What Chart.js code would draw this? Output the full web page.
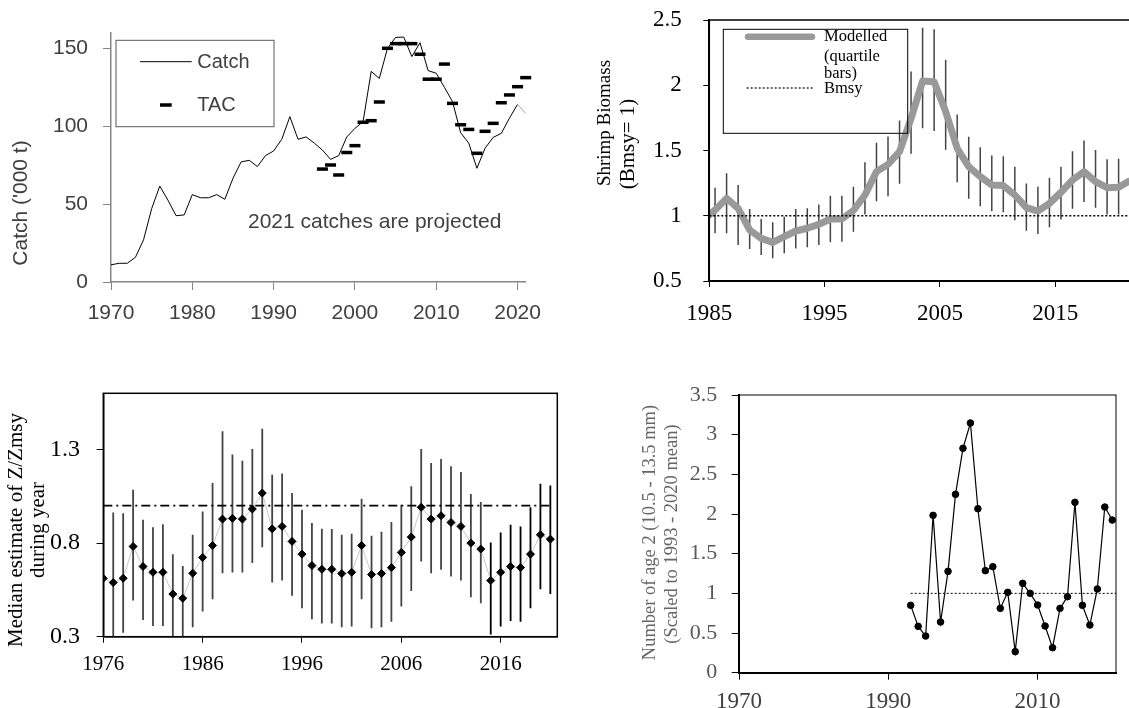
<!DOCTYPE html>
<html>
<head>
<meta charset="utf-8">
<script src="https://cdn.jsdelivr.net/npm/chart.js@4.4.1/dist/chart.umd.min.js"></script>
<style>
  html, body { margin: 0; padding: 0; background: #fff; overflow: hidden; width: 1129px; height: 708px; }
  canvas { position: absolute; }
</style>
</head>
<body>
<canvas id="graficoCaptura" width="560" height="340" style="left:0px;top:0px"></canvas>
<canvas id="graficoBiomassa" width="580" height="360" style="left:580px;top:-20px"></canvas>
<canvas id="graficoZ" width="590" height="358" style="left:0px;top:350px"></canvas>
<canvas id="graficoIdade2" width="529" height="358" style="left:600px;top:350px"></canvas>
<script>
// ---- dados: captura e TAC ('000 t)
const anosCaptura = [1970, 1971, 1972, 1973, 1974, 1975, 1976, 1977, 1978, 1979,
  1980, 1981, 1982, 1983, 1984, 1985, 1986, 1987, 1988, 1989,
  1990, 1991, 1992, 1993, 1994, 1995, 1996, 1997, 1998, 1999,
  2000, 2001, 2002, 2003, 2004, 2005, 2006, 2007, 2008, 2009,
  2010, 2011, 2012, 2013, 2014, 2015, 2016, 2017, 2018, 2019, 2020, 2021];
const captura = [11, 12, 12, 15.8, 27, 47, 61.5, 52.5, 42.5, 43,
  56, 54, 54, 56, 53, 66.5, 77, 78, 74, 81,
  84, 91.5, 106, 91.5, 93, 89, 84.6, 78.6, 81, 93,
  98.5, 102.8, 135, 130.5, 149.8, 156.8, 157, 144.5, 153.4, 135.5,
  133.8, 124.8, 115.6, 95.7, 89, 72.9, 85.7, 92.7, 95.3, 105, 113.9, 108];
const anosTAC = [1996, 1997, 1998, 1999, 2000, 2001, 2002, 2003, 2004, 2005,
  2006, 2007, 2008, 2009, 2010, 2011, 2012, 2013, 2014, 2015,
  2016, 2017, 2018, 2019, 2020, 2021];
const tac = [72.4, 75, 68.6, 83, 87.4, 102.4, 103.4, 115.4, 149.8, 152.8,
  152.8, 152.8, 146, 130, 130, 139.7, 114.5, 100.8, 97.8, 82.5,
  96.6, 101.7, 114.9, 119.9, 125.2, 131];
const ticksXCaptura = [1970, 1980, 1990, 2000, 2010, 2020];
const ticksYCaptura = [0, 50, 100, 150];

// ---- dados: biomassa (meio do ano) com barras de quartis
const anosBiomassa = [1984.5, 1985.5, 1986.5, 1987.5, 1988.5, 1989.5, 1990.5, 1991.5, 1992.5, 1993.5,
  1994.5, 1995.5, 1996.5, 1997.5, 1998.5, 1999.5, 2000.5, 2001.5, 2002.5, 2003.5,
  2004.5, 2005.5, 2006.5, 2007.5, 2008.5, 2009.5, 2010.5, 2011.5, 2012.5, 2013.5,
  2014.5, 2015.5, 2016.5, 2017.5, 2018.5, 2019.5, 2020.5, 2021.5];
const biomassa = [0.97, 1.044, 1.133, 1.057, 0.891, 0.827, 0.796, 0.84, 0.883, 0.904,
  0.934, 0.975, 0.975, 1.04, 1.159, 1.338, 1.394, 1.491, 1.746, 2.033,
  2.027, 1.798, 1.517, 1.376, 1.3, 1.236, 1.231, 1.159, 1.062, 1.036,
  1.095, 1.179, 1.274, 1.338, 1.261, 1.215, 1.218, 1.27];
const biomassaAlto = [null, 1.215, 1.325, 1.236, 1.052, 0.975, 0.95, 0.993, 1.052, 1.057,
  1.087, 1.154, 1.154, 1.223, 1.41, 1.56, 1.607, 1.73, 2.105, 2.44,
  2.43, 2.195, 1.775, 1.605, 1.525, 1.461, 1.456, 1.375, 1.247, 1.222,
  1.291, 1.375, 1.495, 1.577, 1.503, 1.432, 1.437, null];
const biomassaBaixo = [null, 0.865, 0.865, 0.776, 0.745, 0.699, 0.674, 0.712, 0.75, 0.758,
  0.776, 0.796, 0.801, 0.878, 1.01, 1.112, 1.15, 1.245, 1.475, 1.67,
  1.65, 1.505, 1.257, 1.13, 1.073, 1.035, 1.027, 0.966, 0.886, 0.86,
  0.911, 0.971, 1.054, 1.105, 1.062, 1.01, 1.01, null];
const ticksXBiomassa = [1985, 1995, 2005, 2015];
const ticksYBiomassa = [0.5, 1, 1.5, 2, 2.5];

// ---- dados: Z/Zmsy
const anosZ = [1976, 1977, 1978, 1979, 1980, 1981, 1982, 1983, 1984, 1985,
  1986, 1987, 1988, 1989, 1990, 1991, 1992, 1993, 1994, 1995,
  1996, 1997, 1998, 1999, 2000, 2001, 2002, 2003, 2004, 2005,
  2006, 2007, 2008, 2009, 2010, 2011, 2012, 2013, 2014, 2015,
  2016, 2017, 2018, 2019, 2020, 2021];
const medianaZ = [0.612, 0.589, 0.612, 0.782, 0.675, 0.644, 0.644, 0.528, 0.505, 0.639,
  0.723, 0.787, 0.928, 0.932, 0.928, 0.982, 1.067, 0.876, 0.889, 0.809,
  0.741, 0.68, 0.66, 0.66, 0.637, 0.644, 0.787, 0.632, 0.637, 0.669,
  0.75, 0.832, 0.991, 0.928, 0.946, 0.91, 0.889, 0.8, 0.768, 0.6,
  0.644, 0.675, 0.669, 0.741, 0.844, 0.821];
const zAlto = [null, 0.964, 0.96, 1.085, 0.925, 0.885, 0.901, 0.741, 0.678, 0.844,
  0.969, 1.121, 1.397, 1.273, 1.24, 1.303, 1.41, 1.165, 1.171, 1.067,
  0.978, 0.907, 0.876, 0.875, 0.844, 0.85, 1.037, 0.839, 0.86, 0.912,
  1.005, 1.103, 1.303, 1.228, 1.249, 1.21, 1.18, 1.062, 1.019, 0.803,
  0.857, 0.898, 0.889, 0.991, 1.117, 1.107];
const zBaixo = [null, 0.28, 0.321, 0.493, 0.389, 0.357, 0.357, 0.28, 0.28, 0.35,
  0.434, 0.5, 0.639, 0.643, 0.643, 0.693, 0.778, 0.589, 0.6, 0.519,
  0.452, 0.393, 0.371, 0.371, 0.35, 0.354, 0.5, 0.345, 0.35, 0.38,
  0.461, 0.544, 0.701, 0.639, 0.657, 0.621, 0.6, 0.511, 0.478, 0.312,
  0.354, 0.384, 0.38, 0.452, 0.553, 0.528];
const ticksXZ = [1976, 1986, 1996, 2006, 2016];
const ticksYZ = [0.3, 0.8, 1.3];

// ---- dados: idade 2 (escalado para a média 1993-2020)
const anosIdade2 = [1993, 1994, 1995, 1996, 1997, 1998, 1999, 2000, 2001, 2002,
  2003, 2004, 2005, 2006, 2007, 2008, 2009, 2010, 2011, 2012,
  2013, 2014, 2015, 2016, 2017, 2018, 2019, 2020];
const idade2 = [0.849, 0.584, 0.462, 1.983, 0.639, 1.277, 2.248, 2.828, 3.147, 2.067,
  1.286, 1.336, 0.811, 1.013, 0.265, 1.126, 1.0, 0.853, 0.588, 0.315,
  0.811, 0.958, 2.147, 0.849, 0.601, 1.055, 2.088, 1.924];
const ticksXIdade2 = [1970, 1990, 2010];
const ticksYIdade2 = [0, 0.5, 1, 1.5, 2, 2.5, 3, 3.5];

const SANS = "'Liberation Sans', Arial, sans-serif";
const SERIF = "'Liberation Serif', 'Times New Roman', serif";

function pontos(xs, ys) {
  return xs.map((x, i) => ({ x: x, y: ys[i] }));
}

function fixaTicks(valores) {
  return (escala) => {
    escala.ticks = valores.map((v) => ({ value: v }));
  };
}

// textos, caixas e amostras de legenda (coordenadas da página)
function notas(origemX, origemY, itens) {
  return {
    id: "notas",
    afterDraw(chart) {
      const ctx = chart.ctx;
      itens.forEach((n) => {
        ctx.save();
        ctx.translate(-origemX, -origemY);
        if (n.tipo === "caixa") {
          ctx.strokeStyle = n.cor;
          ctx.lineWidth = n.lw;
          ctx.strokeRect(n.x, n.y, n.w, n.h);
        } else if (n.tipo === "linha") {
          ctx.strokeStyle = n.cor;
          ctx.lineWidth = n.lw;
          ctx.lineCap = n.cap || "butt";
          ctx.setLineDash(n.dash || []);
          ctx.beginPath();
          ctx.moveTo(n.x1, n.y);
          ctx.lineTo(n.x2, n.y);
          ctx.stroke();
        } else {
          ctx.font = n.fonte;
          ctx.fillStyle = n.cor || "#000";
          ctx.textAlign = n.alinha || "left";
          ctx.textBaseline = "middle";
          ctx.translate(n.x, n.y);
          if (n.rot) ctx.rotate(n.rot);
          ctx.fillText(n.texto, 0, 0);
        }
        ctx.restore();
      });
    },
  };
}

// moldura em volta da área do gráfico
function moldura(cor, largura) {
  return {
    id: "moldura",
    afterDatasetsDraw(chart) {
      const { ctx, chartArea: a } = chart;
      ctx.save();
      ctx.strokeStyle = cor;
      ctx.lineWidth = largura;
      ctx.strokeRect(a.left, a.top, a.right - a.left, a.bottom - a.top);
      ctx.restore();
    },
  };
}

// barras verticais de incerteza
function barras(xs, baixo, alto, corDe, largura) {
  return {
    id: "barras",
    beforeDatasetsDraw(chart) {
      const { ctx, chartArea: a, scales } = chart;
      ctx.save();
      ctx.beginPath();
      ctx.rect(a.left, a.top, a.right - a.left, a.bottom - a.top);
      ctx.clip();
      ctx.lineWidth = largura;
      xs.forEach((x, i) => {
        if (baixo[i] == null) return;
        const px = scales.x.getPixelForValue(x);
        ctx.strokeStyle = corDe(x);
        ctx.beginPath();
        ctx.moveTo(px, scales.y.getPixelForValue(baixo[i]));
        ctx.lineTo(px, scales.y.getPixelForValue(alto[i]));
        ctx.stroke();
      });
      ctx.restore();
    },
  };
}

function eixo(cfg) {
  return {
    type: "linear",
    position: cfg.pos,
    min: cfg.min,
    max: cfg.max,
    afterBuildTicks: fixaTicks(cfg.ticks),
    afterFit: (e) => {
      if (cfg.pos === "left") e.width = cfg.tamanho;
      else e.height = cfg.tamanho;
    },
    grid: { drawOnChartArea: false, drawTicks: true, tickLength: cfg.tl, color: cfg.corLinha, lineWidth: 1 },
    border: { color: cfg.corLinha, width: cfg.bw },
    ticks: {
      autoSkip: false,
      maxRotation: 0,
      padding: cfg.pad,
      color: cfg.corTexto,
      font: { family: cfg.familia, size: cfg.fs },
      callback: (v) => String(v),
    },
  };
}

const basico = {
  responsive: false,
  animation: false,
  events: [],
  plugins: { legend: { display: false }, tooltip: { enabled: false } },
};

// ---------- painel 1: captura
new Chart(document.getElementById("graficoCaptura"), {
  type: "line",
  data: {
    datasets: [
      {
        label: "TAC",
        data: pontos(anosTAC, tac),
        showLine: false,
        pointStyle: "line",
        pointRadius: 5.5,
        pointBorderWidth: 3.5,
        pointBorderColor: "#000",
        clip: false,
      },
      {
        label: "Catch",
        data: pontos(anosCaptura, captura),
        borderColor: "#000",
        borderWidth: 1,
        pointRadius: 0,
        segment: { borderColor: (c) => (c.p1.parsed.x > 2020 ? "#a6a6a6" : undefined) },
      },
    ],
  },
  options: {
    ...basico,
    layout: { padding: { top: 32.4, right: 34.3, bottom: 0, left: 0 } },
    scales: {
      x: eixo({ pos: "bottom", min: 1970, max: 2021, ticks: ticksXCaptura, tamanho: 58, tl: 8, corLinha: "#868686", bw: 1.5, pad: 11, corTexto: "#404040", familia: SANS, fs: 21 }),
      y: eixo({ pos: "left", min: 0, max: 160, ticks: ticksYCaptura, tamanho: 111, tl: 8, corLinha: "#868686", bw: 1.5, pad: 15, corTexto: "#404040", familia: SANS, fs: 21 }),
    },
  },
  plugins: [
    notas(0, 0, [
      { tipo: "caixa", x: 116, y: 40.3, w: 158, h: 86.4, cor: "#595959", lw: 1 },
      { tipo: "linha", x1: 140, x2: 191.7, y: 61.7, cor: "#000", lw: 1 },
      { tipo: "linha", x1: 160, x2: 171.7, y: 105, cor: "#000", lw: 3.5 },
      { tipo: "texto", texto: "Catch", x: 197.3, y: 62, fonte: "20px " + SANS, cor: "#404040" },
      { tipo: "texto", texto: "TAC", x: 197.3, y: 105, fonte: "20px " + SANS, cor: "#404040" },
      { tipo: "texto", texto: "2021 catches are projected", x: 248, y: 222.7, fonte: "21px " + SANS, cor: "#404040" },
      { tipo: "texto", texto: "Catch ('000 t)", x: 21.7, y: 203, rot: -Math.PI / 2, alinha: "center", fonte: "21px " + SANS, cor: "#404040" },
    ]),
  ],
});

// ---------- painel 2: biomassa
new Chart(document.getElementById("graficoBiomassa"), {
  type: "line",
  data: {
    datasets: [
      {
        label: "Bmsy",
        data: pontos([1985, 2022], [1, 1]),
        borderColor: "#000",
        borderWidth: 1.5,
        borderDash: [2, 2],
        pointRadius: 0,
      },
      {
        label: "Modelled",
        data: pontos(anosBiomassa, biomassa),
        borderColor: "#999999",
        borderWidth: 7,
        borderJoinStyle: "round",
        pointRadius: 0,
        clip: 0,
      },
    ],
  },
  options: {
    ...basico,
    layout: { padding: { top: 40, right: 24.1, bottom: 0, left: 0 } },
    scales: {
      x: eixo({ pos: "bottom", min: 1985, max: 2022, ticks: ticksXBiomassa, tamanho: 59, tl: 6, corLinha: "#000", bw: 2, pad: 13, corTexto: "#000", familia: SERIF, fs: 23 }),
      y: eixo({ pos: "left", min: 0.5, max: 2.5, ticks: ticksYBiomassa, tamanho: 129.3, tl: 6, corLinha: "#000", bw: 2, pad: 21.6, corTexto: "#000", familia: SERIF, fs: 23 }),
    },
  },
  plugins: [
    barras(anosBiomassa, biomassaBaixo, biomassaAlto, () => "#444444", 1.5),
    moldura("#000", 1.5),
    notas(580, -20, [
      { tipo: "caixa", x: 723.3, y: 29.3, w: 184.4, h: 104, cor: "#000", lw: 1 },
      { tipo: "linha", x1: 748, x2: 812, y: 36.7, cor: "#999999", lw: 6.5, cap: "round" },
      { tipo: "linha", x1: 746.7, x2: 813, y: 88, cor: "#000", lw: 1.2, dash: [2, 2] },
      { tipo: "texto", texto: "Modelled", x: 824, y: 37, fonte: "16.5px " + SERIF },
      { tipo: "texto", texto: "(quartile", x: 824, y: 57, fonte: "16.5px " + SERIF },
      { tipo: "texto", texto: "bars)", x: 824, y: 74, fonte: "16.5px " + SERIF },
      { tipo: "texto", texto: "Bmsy", x: 824, y: 89, fonte: "16.5px " + SERIF },
      { tipo: "texto", texto: "Shrimp Biomass", x: 605, y: 123, rot: -Math.PI / 2, alinha: "center", fonte: "19px " + SERIF },
      { tipo: "texto", texto: "(Bmsy= 1)", x: 628, y: 144, rot: -Math.PI / 2, alinha: "center", fonte: "21px " + SERIF },
    ]),
  ],
});

// ---------- painel 3: Z/Zmsy
new Chart(document.getElementById("graficoZ"), {
  type: "line",
  data: {
    datasets: [
      {
        label: "Median",
        data: pontos(anosZ, medianaZ),
        borderColor: "#c8c8c8",
        borderWidth: 1,
        pointStyle: "rectRot",
        pointRadius: 4,
        pointBorderWidth: 1,
        pointBackgroundColor: "#000",
        pointBorderColor: "#000",
      },
      {
        label: "Zmsy",
        data: pontos([1976, 2021], [1, 1]),
        borderColor: "#000",
        borderWidth: 1.8,
        borderDash: [9, 4, 2, 4],
        pointRadius: 0,
      },
    ],
  },
  options: {
    ...basico,
    layout: { padding: { top: 43.3, right: 32.7, bottom: 0, left: 0 } },
    scales: {
      x: eixo({ pos: "bottom", min: 1976, max: 2021.7, ticks: ticksXZ, tamanho: 71.3, tl: 6, corLinha: "#000", bw: 1.5, pad: 9, corTexto: "#000", familia: SERIF, fs: 21 }),
      y: eixo({ pos: "left", min: 0.3, max: 1.6, ticks: ticksYZ, tamanho: 103.3, tl: 6.7, corLinha: "#000", bw: 1.5, pad: 16.6, corTexto: "#000", familia: SERIF, fs: 24 }),
    },
  },
  plugins: [
    barras(anosZ, zBaixo, zAlto, (x) => (x >= 2015 ? "#000" : "#444444"), 1.8),
    moldura("#000", 1.5),
    notas(0, 350, [
      { tipo: "texto", texto: "Median estimate of Z/Zmsy", x: 16, y: 530, rot: -Math.PI / 2, alinha: "center", fonte: "21px " + SERIF },
      { tipo: "texto", texto: "during year", x: 38.3, y: 530, rot: -Math.PI / 2, alinha: "center", fonte: "21px " + SERIF },
    ]),
  ],
});

// ---------- painel 4: idade 2
new Chart(document.getElementById("graficoIdade2"), {
  type: "line",
  data: {
    datasets: [
      {
        label: "Age 2",
        data: pontos(anosIdade2, idade2),
        borderColor: "#000",
        borderWidth: 1.2,
        pointRadius: 3.3,
        pointBorderWidth: 1,
        pointBackgroundColor: "#000",
        pointBorderColor: "#000",
      },
      {
        label: "Mean",
        data: pontos([1993, 2020.5], [1, 1]),
        borderColor: "#000",
        borderWidth: 1,
        borderDash: [2, 2],
        pointRadius: 0,
      },
    ],
  },
  options: {
    ...basico,
    layout: { padding: { top: 45, right: 13, bottom: 0, left: 0 } },
    scales: {
      x: eixo({ pos: "bottom", min: 1970, max: 2020.5, ticks: ticksXIdade2, tamanho: 35.3, tl: 7, corLinha: "#000", bw: 2, pad: 8.6, corTexto: "#404040", familia: SERIF, fs: 23 }),
      y: eixo({ pos: "left", min: 0, max: 3.5, ticks: ticksYIdade2, tamanho: 139, tl: 7.3, corLinha: "#000", bw: 2, pad: 14.4, corTexto: "#595959", familia: SERIF, fs: 22 }),
    },
  },
  plugins: [
    moldura("#000", 1),
    notas(600, 350, [
      { tipo: "texto", texto: "Number of age 2 (10.5 - 13.5 mm)", x: 650, y: 532.5, rot: -Math.PI / 2, alinha: "center", fonte: "18.5px " + SERIF, cor: "#666666" },
      { tipo: "texto", texto: "(Scaled to 1993 - 2020 mean)", x: 671.7, y: 534, rot: -Math.PI / 2, alinha: "center", fonte: "18.5px " + SERIF, cor: "#666666" },
    ]),
  ],
});
</script>
</body>
</html>
